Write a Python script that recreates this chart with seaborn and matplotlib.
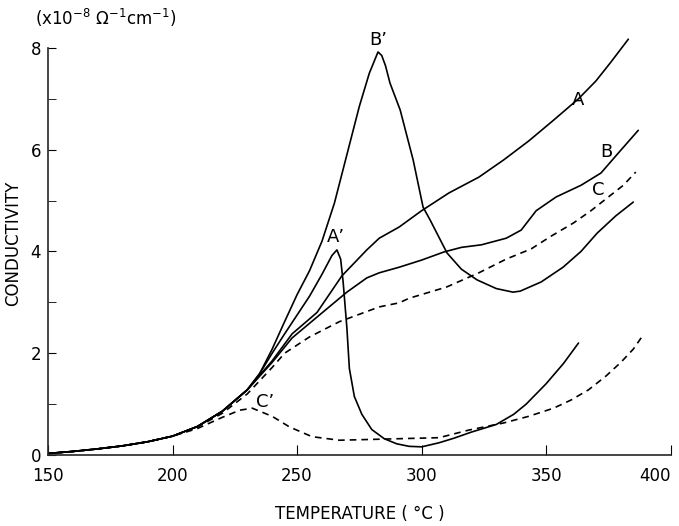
import numpy as np
import pandas as pd
import matplotlib
matplotlib.use('Agg')
import matplotlib.pyplot as plt
import seaborn as sns

# Temperature (C) / conductivity (x1e-8 ohm^-1 cm^-1)
base_t = [150, 160, 170, 180, 190, 200, 210, 220, 230]
base_y = [0.03, 0.07, 0.12, 0.18, 0.26, 0.37, 0.56, 0.86, 1.28]

a_t = [240, 248, 258, 268, 278, 283, 291, 300, 311, 323, 333, 343, 353, 363, 370, 376, 383]
a_y = [1.85, 2.38, 2.8, 3.52, 4.03, 4.26, 4.48, 4.8, 5.15, 5.46, 5.8, 6.17, 6.58, 7.0, 7.35, 7.72, 8.17]

b_t = [240, 248, 258, 270, 278, 283, 291, 300, 309, 316, 324, 334, 340, 346, 354, 364, 372, 380, 387]
b_y = [1.82, 2.3, 2.71, 3.2, 3.48, 3.58, 3.69, 3.83, 3.99, 4.08, 4.13, 4.26, 4.42, 4.8, 5.07, 5.3, 5.54, 5.99, 6.38]

c_t = [150, 160, 170, 180, 190, 200, 210, 220, 230, 240, 245, 255, 267, 283, 291, 295, 310, 323,
       334, 344, 352, 361, 368, 375, 381, 386]
c_y = [0.03, 0.07, 0.12, 0.18, 0.26, 0.37, 0.55, 0.82, 1.2, 1.72, 2.0, 2.32, 2.62, 2.91, 2.99, 3.08,
       3.3, 3.58, 3.85, 4.05, 4.3, 4.56, 4.8, 5.07, 5.3, 5.56]

ap_t = [235, 240, 245, 250, 255, 260, 264, 266, 267.5, 268.5, 270, 271, 273, 276, 280, 285, 290,
        295, 300, 307, 313, 320, 330, 337, 342, 350, 357, 363]
ap_y = [1.6, 2.0, 2.38, 2.75, 3.12, 3.55, 3.92, 4.03, 3.85, 3.4, 2.5, 1.7, 1.15, 0.8, 0.5, 0.32, 0.22,
        0.17, 0.16, 0.24, 0.33, 0.45, 0.6, 0.8, 1.0, 1.4, 1.8, 2.2]

bp_t = [235, 240, 245, 250, 255, 260, 265, 270, 275, 279, 282.5, 284, 285.5, 287.3, 291.4, 296.6,
        300.6, 303.4, 310.2, 316, 322.3, 330, 336.7, 339.6, 348, 356.8, 364, 370.5, 378, 385]
bp_y = [1.6, 2.08, 2.62, 3.15, 3.62, 4.2, 4.95, 5.9, 6.85, 7.5, 7.92, 7.85, 7.65, 7.31, 6.78, 5.8,
        4.87, 4.62, 3.97, 3.65, 3.44, 3.27, 3.2, 3.22, 3.4, 3.69, 4.0, 4.36, 4.7, 4.97]

cp_t = [150, 160, 170, 180, 190, 200, 210, 220, 227, 232, 240, 247, 256, 267, 283, 299, 307, 319,
        333, 343, 353, 360, 367, 374, 380, 385, 389]
cp_y = [0.03, 0.07, 0.12, 0.18, 0.26, 0.37, 0.52, 0.74, 0.88, 0.92, 0.76, 0.55, 0.36, 0.29, 0.31,
        0.33, 0.34, 0.49, 0.63, 0.76, 0.92, 1.08, 1.28, 1.55, 1.82, 2.08, 2.36]

curves = {
    'A': (base_t + a_t, base_y + a_y, 'solid'),
    'B': (base_t + b_t, base_y + b_y, 'solid'),
    'C': (c_t, c_y, 'dashed'),
    "A'": (base_t + ap_t, base_y + ap_y, 'solid'),
    "B'": (base_t + bp_t, base_y + bp_y, 'solid'),
    "C'": (cp_t, cp_y, 'dashed'),
}

# label positions (centres)
lab_names = ['A', 'B', 'C', "A'", "B'", "C'"]
lab_t = [363, 374, 371, 265.5, 282.5, 237]
lab_y = [6.97, 5.95, 5.2, 4.28, 8.15, 1.04]

x_ticks = [150, 200, 250, 300, 350, 400]

sns.set_style('ticks')
plt.rcParams['font.family'] = ['DejaVu Sans']
plt.rcParams['text.color'] = 'black'
plt.rcParams['axes.labelcolor'] = 'black'
plt.rcParams['xtick.color'] = 'black'
plt.rcParams['ytick.color'] = 'black'

fig = plt.figure(figsize=(6.79, 5.26), dpi=100)
ax = fig.add_axes([0.0707, 0.135, 0.917, 0.803])

for name, (t, y, ls) in curves.items():
    df = pd.DataFrame({'T': t, 'S': y})
    sns.lineplot(data=df, x='T', y='S', ax=ax, color='black', linewidth=1.2, sort=False)
    if ls == 'dashed':
        ax.lines[-1].set_dashes((4, 3))

for n, tx, ty in zip(lab_names, lab_t, lab_y):
    ax.text(tx, ty, n.replace("'", "\u2019"), ha='center', va='center', fontsize=13)

ax.set_xlim(150, 400)
ax.set_ylim(0, 8.3)
ax.set_xticks(x_ticks)
ax.set_yticks([0, 2, 4, 6, 8])
ax.set_yticks([1, 3, 5, 7], minor=True)
ax.tick_params(axis='both', which='both', direction='in', labelsize=12)
ax.tick_params(axis='x', which='major', length=7, pad=9)
ax.tick_params(axis='y', which='major', length=6, pad=5)
ax.tick_params(axis='y', which='minor', length=6)
sns.despine(ax=ax)
ax.spines['left'].set_bounds(0, 8)
for s in ax.spines.values():
    s.set_linewidth(1.2)
ax.xaxis.get_major_ticks()[-1].label1.set_horizontalalignment('right')

ax.set_xlabel('TEMPERATURE ( \u00b0C )', fontsize=12, labelpad=14)
ax.set_ylabel('CONDUCTIVITY', fontsize=12, labelpad=6)
fig.text(0.052, 0.965, '(x10$^{-8}$ \u03a9$^{-1}$cm$^{-1}$)', fontsize=12, ha='left', va='center')

fig.savefig('out.png', dpi=100)
